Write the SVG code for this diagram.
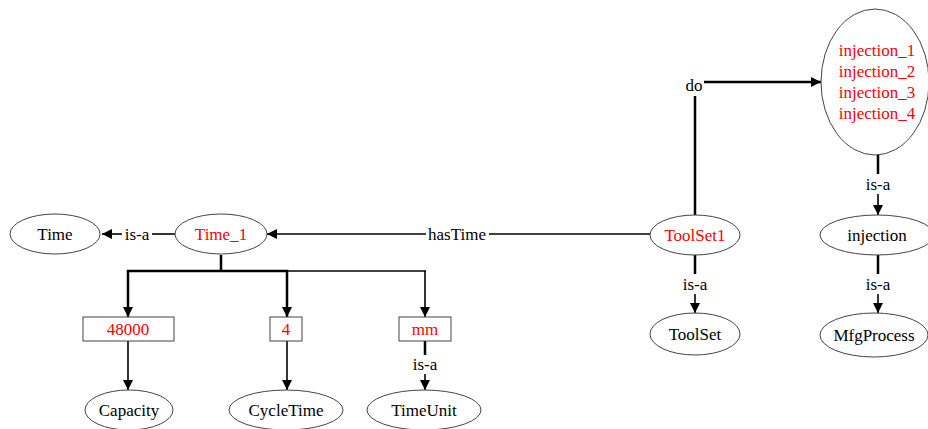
<svg xmlns="http://www.w3.org/2000/svg" width="928" height="429" viewBox="0 0 928 429">
  <style>
    .node ellipse, .node rect { fill: #fff; stroke: #444; stroke-width: 1; }
    text { font-family: 'Liberation Serif', serif; font-size: 17px; text-anchor: middle; }
    .lit { fill: #ff0000; }
    .cls { fill: #000; }
    .lbl { fill: #000; }
    .edge { fill: none; stroke: #000; }
    .thick { stroke-width: 2.5; }
    .thin { stroke-width: 1.6; }
  </style>
  <defs>
    <marker id="arrow" viewBox="0 0 10 10" refX="10" refY="5" markerWidth="11" markerHeight="10" markerUnits="userSpaceOnUse" orient="auto">
      <path d="M0,0 L10,5 L0,10 z" fill="#000"/>
    </marker>
  </defs>

  <rect width="928" height="429" fill="#fff"/>

  <!-- connectors -->
  <g id="edges">
    <!-- Time_1 is-a Time -->
    <line class="edge thin" x1="175" y1="234" x2="152" y2="234"/>
    <line class="edge thin" x1="122" y1="234" x2="102" y2="234" marker-end="url(#arrow)"/>
    <text class="lbl" x="137" y="240">is-a</text>

    <!-- ToolSet1 hasTime Time_1 -->
    <line class="edge thin" x1="650" y1="234" x2="489" y2="234"/>
    <line class="edge thin" x1="426" y1="234" x2="267" y2="234" marker-end="url(#arrow)"/>
    <text class="lbl" x="457" y="240">hasTime</text>

    <!-- ToolSet1 do injections -->
    <polyline class="edge thick" points="695,215 695,96"/>
    <polyline class="edge thick" points="704,82 821,82" marker-end="url(#arrow)"/>
    <text class="lbl" x="694" y="91">do</text>

    <!-- injections is-a injection -->
    <line class="edge thick" x1="878" y1="155" x2="878" y2="174"/>
    <line class="edge thin" x1="878" y1="194" x2="878" y2="215" marker-end="url(#arrow)"/>
    <text class="lbl" x="878" y="190">is-a</text>

    <!-- injection is-a MfgProcess -->
    <line class="edge thick" x1="878" y1="255" x2="878" y2="274"/>
    <line class="edge thin" x1="878" y1="294" x2="878" y2="313" marker-end="url(#arrow)"/>
    <text class="lbl" x="878" y="290">is-a</text>

    <!-- ToolSet1 is-a ToolSet -->
    <line class="edge thick" x1="695" y1="255" x2="695" y2="274"/>
    <line class="edge thin" x1="695" y1="294" x2="695" y2="313" marker-end="url(#arrow)"/>
    <text class="lbl" x="695" y="290">is-a</text>

    <!-- Time_1 value tree -->
    <line class="edge thick" x1="221" y1="255" x2="221" y2="271"/>
    <line class="edge thick" x1="127" y1="271" x2="288" y2="271"/>
    <line class="edge thin" x1="287" y1="271" x2="426" y2="271"/>
    <line class="edge thick" x1="128" y1="270" x2="128" y2="317" marker-end="url(#arrow)"/>
    <line class="edge thick" x1="287" y1="270" x2="287" y2="317" marker-end="url(#arrow)"/>
    <line class="edge thin" x1="425" y1="271" x2="425" y2="317" marker-end="url(#arrow)"/>

    <!-- values to classes -->
    <line class="edge thin" x1="128" y1="341" x2="128" y2="390" marker-end="url(#arrow)"/>
    <line class="edge thin" x1="287" y1="341" x2="287" y2="390" marker-end="url(#arrow)"/>
    <line class="edge thick" x1="425" y1="341" x2="425" y2="355"/>
    <line class="edge thin" x1="425" y1="374" x2="425" y2="390" marker-end="url(#arrow)"/>
    <text class="lbl" x="425" y="370">is-a</text>
  </g>

  <!-- nodes -->
  <g id="time" class="node">
    <ellipse cx="55" cy="234" rx="45" ry="20"/>
    <text class="cls" x="55" y="240">Time</text>
  </g>
  <g id="time_1" class="node">
    <ellipse cx="221" cy="234" rx="46" ry="20"/>
    <text class="lit" x="221" y="240">Time_1</text>
  </g>
  <g id="toolset1" class="node">
    <ellipse cx="695" cy="235" rx="45" ry="20"/>
    <text class="lit" x="695" y="241">ToolSet1</text>
  </g>
  <g id="toolset" class="node">
    <ellipse cx="695" cy="334" rx="45" ry="21"/>
    <text class="cls" x="695" y="340">ToolSet</text>
  </g>
  <g id="injections" class="node">
    <ellipse cx="875" cy="82" rx="54" ry="73"/>
    <text class="lit" x="877" y="56">injection_1</text>
    <text class="lit" x="877" y="77">injection_2</text>
    <text class="lit" x="877" y="98">injection_3</text>
    <text class="lit" x="877" y="119">injection_4</text>
  </g>
  <g id="injection" class="node">
    <ellipse cx="877" cy="235" rx="57" ry="20"/>
    <text class="cls" x="877" y="241">injection</text>
  </g>
  <g id="mfgprocess" class="node">
    <ellipse cx="874" cy="335" rx="54" ry="22"/>
    <text class="cls" x="874" y="341">MfgProcess</text>
  </g>
  <g id="v48000" class="node">
    <rect x="83" y="317" width="91" height="24"/>
    <text class="lit" x="128" y="335">48000</text>
  </g>
  <g id="v4" class="node">
    <rect x="270" y="317" width="32" height="24"/>
    <text class="lit" x="286" y="335">4</text>
  </g>
  <g id="vmm" class="node">
    <rect x="399" y="317" width="52" height="24"/>
    <text class="lit" x="425" y="335">mm</text>
  </g>
  <g id="capacity" class="node">
    <ellipse cx="129" cy="410" rx="44" ry="20"/>
    <text class="cls" x="129" y="416">Capacity</text>
  </g>
  <g id="cycletime" class="node">
    <ellipse cx="286" cy="410" rx="57" ry="20"/>
    <text class="cls" x="286" y="416">CycleTime</text>
  </g>
  <g id="timeunit" class="node">
    <ellipse cx="424" cy="410" rx="57" ry="20"/>
    <text class="cls" x="424" y="416">TimeUnit</text>
  </g>
</svg>
